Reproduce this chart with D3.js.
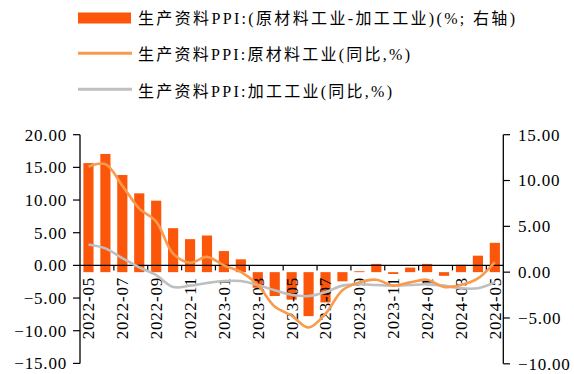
<!DOCTYPE html>
<html><head><meta charset="utf-8">
<script src="https://cdn.jsdelivr.net/npm/d3@7"></script>
<style>
html,body{margin:0;padding:0;background:#fff;}
svg{display:block;}
text{font-family:"Liberation Serif","Times New Roman","Noto Sans CJK SC",serif;fill:#000;}
</style></head>
<body><svg id="c" width="574" height="374"></svg>
<script>
const months = ["2022-05","2022-06","2022-07","2022-08","2022-09","2022-10","2022-11","2022-12",
  "2023-01","2023-02","2023-03","2023-04","2023-05","2023-06","2023-07","2023-08","2023-09",
  "2023-10","2023-11","2023-12","2024-01","2024-02","2024-03","2024-04","2024-05"];
const spread = [11.9,12.9,10.6,8.6,7.8,4.8,3.6,4.0,2.3,1.4,-1.7,-2.6,-3.0,-4.8,-3.3,-1.0,0.1,0.9,-0.2,0.5,0.9,-0.4,0.8,1.8,3.2];
const rawMat = [15.1,15.5,12.2,8.7,6.7,1.8,0.4,1.3,0.0,-1.0,-3.0,-6.3,-7.7,-9.5,-7.4,-3.8,-2.6,-2.2,-3.1,-2.6,-2.2,-3.3,-3.0,-2.0,0.5];
const processing = [3.2,2.6,1.1,-0.3,-1.5,-3.3,-3.1,-2.7,-2.4,-2.4,-3.0,-3.8,-4.5,-4.7,-4.1,-3.1,-2.9,-3.0,-3.1,-3.0,-2.9,-3.1,-3.5,-3.5,-2.6];
const leftTicks = [20,15,10,5,0,-5,-10,-15];
const rightTicks = [15,10,5,0,-5,-10];
const legendLabels = ["生产资料PPI:(原材料工业-加工工业)(%; 右轴)","生产资料PPI:原材料工业(同比,%)","生产资料PPI:加工工业(同比,%)"];

const barColor = "#fb560a", orange = "#f99a4c", gray = "#bfbfbf";
const svg = d3.select("#c");
const x = d3.scaleBand().domain(months).range([80, 503.3]).paddingInner(0.4).paddingOuter(0.2);
const yL = d3.scaleLinear().domain([-15, 20]).range([363.4, 134.7]);
const yR = d3.scaleLinear().domain([-10, 15]).range([363.8, 134.7]);
const step = x.step();

// bars
svg.append("g").selectAll("rect").data(months).join("rect")
  .attr("x", m => x(m))
  .attr("width", x.bandwidth())
  .attr("y", (m,i) => Math.min(yR(0), yR(spread[i])))
  .attr("height", (m,i) => Math.abs(yR(spread[i]) - yR(0)))
  .attr("fill", barColor);

// x axis
const xa = svg.append("g");
xa.append("line").attr("x1", 80).attr("x2", 503.3).attr("y1", yL(0)).attr("y2", yL(0)).attr("stroke", "#000").attr("stroke-width", 1.3);
const boundaries = d3.range(2, 25, 2);
xa.selectAll("line.t").data(boundaries).join("line").attr("class","t")
  .attr("x1", k => 80 + k*step).attr("x2", k => 80 + k*step)
  .attr("y1", yL(0)).attr("y2", yL(0)+5).attr("stroke","#000").attr("stroke-width",1.2);
xa.selectAll("text").data(months.filter((m,i)=>i%2===0)).join("text")
  .attr("transform", m => `translate(${x(m)+x.bandwidth()/2},277) rotate(-90)`)
  .attr("text-anchor","end").attr("dy","0.35em")
  .style("font-size","17px").style("letter-spacing","0.8px")
  .text(m => m);

// left axis
const la = svg.append("g");
la.append("line").attr("x1",80).attr("x2",80).attr("y1",yL(20)).attr("y2",yL(-15)).attr("stroke","#000").attr("stroke-width",1.3);
la.selectAll("line.t").data(leftTicks).join("line").attr("class","t")
  .attr("x1",73).attr("x2",80).attr("y1",d=>yL(d)).attr("y2",d=>yL(d)).attr("stroke","#000").attr("stroke-width",1.2);
la.selectAll("text").data(leftTicks).join("text")
  .attr("x",67).attr("y",d=>yL(d)).attr("dy","0.35em").attr("text-anchor","end")
  .style("font-size","17px").style("letter-spacing","0.8px")
  .text(d=>d3.format(".2f")(d));

// right axis
const ra = svg.append("g");
ra.append("line").attr("x1",503.3).attr("x2",503.3).attr("y1",yR(15)).attr("y2",yR(-10)).attr("stroke","#000").attr("stroke-width",1.3);
ra.selectAll("line.t").data(rightTicks).join("line").attr("class","t")
  .attr("x1",503.3).attr("x2",510).attr("y1",d=>yR(d)).attr("y2",d=>yR(d)).attr("stroke","#000").attr("stroke-width",1.2);
ra.selectAll("text").data(rightTicks).join("text")
  .attr("x",518).attr("y",d=>yR(d)).attr("dy","0.35em").attr("text-anchor","start")
  .style("font-size","17px").style("letter-spacing","0.8px")
  .text(d=>d3.format(".2f")(d));

// lines
const cx = m => x(m) + x.bandwidth()/2;
const lineGen = arr => d3.line().x((d,i)=>cx(months[i])).y(d=>yL(d)).curve(d3.curveCatmullRom.alpha(0.5))(arr);
svg.append("path").attr("d", lineGen(processing)).attr("fill","none").attr("stroke",gray).attr("stroke-width",2.6);
svg.append("path").attr("d", lineGen(rawMat)).attr("fill","none").attr("stroke",orange).attr("stroke-width",2.6);

// legend
const lg = svg.append("g");
lg.append("rect").attr("x",78).attr("y",12.5).attr("width",53).attr("height",11).attr("fill",barColor);
lg.append("line").attr("x1",78).attr("x2",132).attr("y1",53.3).attr("y2",53.3).attr("stroke",orange).attr("stroke-width",3);
lg.append("line").attr("x1",78).attr("x2",132).attr("y1",89.3).attr("y2",89.3).attr("stroke",gray).attr("stroke-width",3);
const lgY = [18.5, 54.5, 91];
const lgW = [377, 272, 254];
lg.selectAll("text").data(legendLabels).join("text")
  .attr("x",138).attr("y",(d,i)=>lgY[i]).attr("dy","0.36em")
  .attr("textLength",(d,i)=>lgW[i]).attr("lengthAdjust","spacing")
  .style("font-size","16px")
  .text(d=>d);
</script></body></html>
